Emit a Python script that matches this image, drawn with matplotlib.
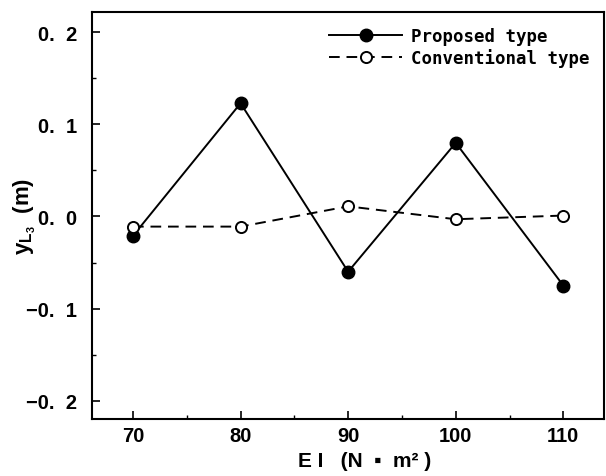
import matplotlib
matplotlib.use("Agg")
import matplotlib.pyplot as plt
from matplotlib.ticker import MultipleLocator

# data
ei = [70, 80, 90, 100, 110]
proposed = [-0.021, 0.123, -0.060, 0.080, -0.075]
conventional = [-0.011, -0.011, 0.011, -0.003, 0.001]
y_ticks = [-0.2, -0.1, 0.0, 0.1, 0.2]
y_ticklabels = ['\u22120.  2', '\u22120.  1', '0.  0', '0.  1', '0.  2']

plt.rcParams['font.family'] = ['Liberation Sans', 'DejaVu Sans']
plt.rcParams['font.weight'] = 'bold'
plt.rcParams['mathtext.fontset'] = 'custom'
plt.rcParams['mathtext.rm'] = 'Liberation Sans'
plt.rcParams['mathtext.bf'] = 'Liberation Sans:bold'

fig = plt.figure(figsize=(6.06, 4.77), dpi=100)
ax = fig.add_axes([0.152, 0.1195, 0.845, 0.853])

ax.plot(ei, proposed, '-', color='black', lw=1.4, marker='o', ms=9,
        mfc='black', mec='black', label='Proposed type')
ax.plot(ei, conventional, '--', color='black', lw=1.4, marker='o', ms=8,
        mfc='white', mec='black', mew=1.4, dashes=(5.5, 3.5), label='Conventional type')

ax.set_xlim(66.2, 113.8)
ax.set_ylim(-0.22, 0.222)
ax.xaxis.set_major_locator(MultipleLocator(10))
ax.xaxis.set_minor_locator(MultipleLocator(5))
ax.yaxis.set_minor_locator(MultipleLocator(0.05))
ax.set_yticks(y_ticks)
ax.set_yticklabels(y_ticklabels)
ax.tick_params(which='major', direction='in', length=6, width=1.2, labelsize=14.5)
ax.tick_params(axis='y', which='major', pad=11)
ax.tick_params(axis='x', which='major', pad=5)
ax.tick_params(which='minor', direction='in', length=3, width=1.0)
for sp in ax.spines.values():
    sp.set_linewidth(1.5)

ax.set_xlabel('E I   (N  \u25aa  m\u00b2 )', fontsize=15, fontweight='bold', va='center')
ax.set_ylabel(r'$\mathbf{y}_{\mathbf{L}_{\mathbf{3}}}$  (m)', fontsize=16, fontweight='bold')
ax.xaxis.set_label_coords(0.533, -0.103)
ax.yaxis.set_label_coords(-0.105, 0.5)

ax.legend(loc='upper right', frameon=False, handlelength=4.2,
          prop={'family': 'DejaVu Sans Mono', 'weight': 'bold', 'size': 12.5},
          borderaxespad=0.45, labelspacing=0.2, handletextpad=0.5)

fig.savefig('out.png', dpi=100, facecolor='white')
